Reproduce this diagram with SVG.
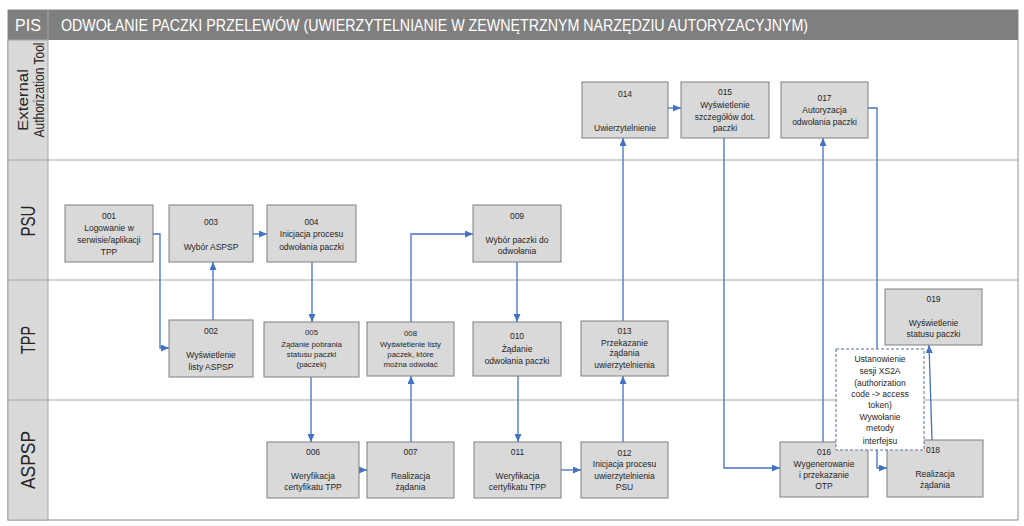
<svg xmlns="http://www.w3.org/2000/svg" width="1024" height="526" viewBox="0 0 1024 526">
<style>
.bg{fill:#ffffff}
.hdr{fill:#7f7f7f}
.ht{font-family:"Liberation Sans",Arial,sans-serif;font-size:16px;fill:#ffffff}
.lane{fill:#d9d9d9;stroke:#a6a6a6;stroke-width:1}
.sep{stroke:#a6a6a6;stroke-width:1;fill:none}
.lt{font-family:"Liberation Sans",Arial,sans-serif;fill:#262626;text-anchor:middle}
.box{fill:#d9d9d9;stroke:#7f7f7f;stroke-width:1}
.dash{fill:#ffffff;stroke:#5a6fa0;stroke-width:1;stroke-dasharray:3,2}
.t{font-family:"Liberation Sans",Arial,sans-serif;font-size:8.5px;fill:#262626;text-anchor:middle}
.s{font-size:7.8px}
.c{fill:none;stroke:#4472c4;stroke-width:1.3;marker-end:url(#ah)}
</style>
<defs>
<marker id="ah" markerUnits="userSpaceOnUse" markerWidth="8" markerHeight="7" refX="8" refY="3.5" orient="auto">
<path d="M0,0 L8,3.5 L0,7 z" fill="#4472c4"/>
</marker>
</defs>
<rect class="bg" x="0" y="0" width="1024" height="526"/>
<g id="frame">
<rect x="8" y="10" width="1010" height="510" fill="none" stroke="#8c8c8c" stroke-width="1"/>
<rect class="hdr" x="8" y="10" width="1010" height="30"/>
<line x1="48" y1="10" x2="48" y2="40" stroke="#a6a6a6" stroke-width="1"/>
<text class="ht" x="28" y="31" text-anchor="middle">PIS</text>
<text class="ht" x="61" y="31" textLength="747" lengthAdjust="spacingAndGlyphs">ODWOŁANIE PACZKI PRZELEWÓW (UWIERZYTELNIANIE W ZEWNĘTRZNYM NARZĘDZIU AUTORYZACYJNYM)</text>
</g>
<g id="lanes">
<rect class="lane" x="8" y="40" width="40" height="480"/>
<line class="sep" x1="8" y1="160" x2="1018" y2="160"/>
<line class="sep" x1="8" y1="280" x2="1018" y2="280"/>
<line class="sep" x1="8" y1="400" x2="1018" y2="400"/>
<text class="lt" font-size="14" transform="translate(28,100) rotate(-90)" textLength="62" lengthAdjust="spacingAndGlyphs">External</text>
<text class="lt" font-size="14" transform="translate(44,90) rotate(-90)" textLength="95" lengthAdjust="spacingAndGlyphs">Authorization Tool</text>
<text class="lt" font-size="20" transform="translate(35,221) rotate(-90)" textLength="31" lengthAdjust="spacingAndGlyphs">PSU</text>
<text class="lt" font-size="20" transform="translate(35,340) rotate(-90)" textLength="28" lengthAdjust="spacingAndGlyphs">TPP</text>
<text class="lt" font-size="20" transform="translate(35,460) rotate(-90)" textLength="58" lengthAdjust="spacingAndGlyphs">ASPSP</text>
</g>
<g id="connectors">
<path class="c" d="M153,234 H160 V348 H169"/>
<path class="c" d="M213,320 V262"/>
<path class="c" d="M253,234 H267"/>
<path class="c" d="M312,262 V322"/>
<path class="c" d="M311,377 V442"/>
<path class="c" d="M359,470 H367"/>
<path class="c" d="M411,442 V376"/>
<path class="c" d="M411,322 V234 H473"/>
<path class="c" d="M517,262 V322"/>
<path class="c" d="M518,376 V442"/>
<path class="c" d="M561,470 H581"/>
<path class="c" d="M623,442 V376"/>
<path class="c" d="M623,321 V138"/>
<path class="c" d="M668,108 H681"/>
<path class="c" d="M724,138 V468 H780"/>
<path class="c" d="M823,442 V138"/>
<path class="c" d="M868,108 H877 V468 H887"/>
<path class="c" d="M932,440 L929,345"/>
</g>
<g id="n001"><rect class="box" x="65" y="205" width="88" height="57"/>
<text class="t" x="109" y="219">001</text><text class="t" x="109" y="231">Logowanie w</text><text class="t" x="109" y="243">serwisie/aplikacji</text><text class="t" x="109" y="255">TPP</text></g>
<g id="n003"><rect class="box" x="169" y="205" width="84" height="57"/>
<text class="t" x="211" y="225">003</text><text class="t" x="211" y="250">Wybór ASPSP</text></g>
<g id="n004"><rect class="box" x="267" y="205" width="89" height="57"/>
<text class="t" x="311.5" y="225">004</text><text class="t" x="311.5" y="237">Inicjacja procesu</text><text class="t" x="311.5" y="250">odwołania paczki</text></g>
<g id="n009"><rect class="box" x="473" y="205" width="88" height="57"/>
<text class="t" x="517" y="219">009</text><text class="t" x="517" y="243">Wybór paczki do</text><text class="t" x="517" y="254">odwołania</text></g>
<g id="n002"><rect class="box" x="169" y="320" width="84" height="57"/>
<text class="t" x="211" y="334">002</text><text class="t" x="211" y="358">Wyświetlenie</text><text class="t" x="211" y="370">listy ASPSP</text></g>
<g id="n005"><rect class="box" x="264" y="322" width="95" height="55"/>
<text class="t s" x="311.5" y="335">005</text><text class="t s" x="311.5" y="347">Żądanie pobrania</text><text class="t s" x="311.5" y="357">statusu paczki</text><text class="t s" x="311.5" y="367">(paczek)</text></g>
<g id="n008"><rect class="box" x="367" y="322" width="87" height="54"/>
<text class="t s" x="410.5" y="336">008</text><text class="t s" x="410.5" y="347">Wyświetlenie listy</text><text class="t s" x="410.5" y="357">paczek, które</text><text class="t s" x="410.5" y="367">można odwołać</text></g>
<g id="n010"><rect class="box" x="473" y="322" width="88" height="54"/>
<text class="t" x="517" y="339">010</text><text class="t" x="517" y="352">Żądanie</text><text class="t" x="517" y="364">odwołania paczki</text></g>
<g id="n013"><rect class="box" x="581" y="321" width="87" height="55"/>
<text class="t" x="624.5" y="334">013</text><text class="t" x="624.5" y="346">Przekazanie</text><text class="t" x="624.5" y="356">żądania</text><text class="t" x="624.5" y="368">uwierzytelnienia</text></g>
<g id="n019"><rect class="box" x="885" y="289" width="97" height="56"/>
<text class="t" x="933.5" y="302">019</text><text class="t" x="933.5" y="326">Wyświetlenie</text><text class="t" x="933.5" y="337">statusu paczki</text></g>
<g id="n006"><rect class="box" x="267" y="442" width="92" height="56"/>
<text class="t" x="313" y="455">006</text><text class="t" x="313" y="479">Weryfikacja</text><text class="t" x="313" y="490">certyfikatu TPP</text></g>
<g id="n007"><rect class="box" x="367" y="442" width="87" height="56"/>
<text class="t" x="410.5" y="455">007</text><text class="t" x="410.5" y="479">Realizacja</text><text class="t" x="410.5" y="490">żądania</text></g>
<g id="n011"><rect class="box" x="474" y="442" width="87" height="56"/>
<text class="t" x="517.5" y="455">011</text><text class="t" x="517.5" y="479">Weryfikacja</text><text class="t" x="517.5" y="490">certyfikatu TPP</text></g>
<g id="n012"><rect class="box" x="581" y="442" width="87" height="56"/>
<text class="t" x="624.5" y="456">012</text><text class="t" x="624.5" y="467">Inicjacja procesu</text><text class="t" x="624.5" y="479">uwierzytelnienia</text><text class="t" x="624.5" y="490">PSU</text></g>
<g id="n016"><rect class="box" x="780" y="442" width="88" height="55"/>
<text class="t" x="824" y="455">016</text><text class="t" x="824" y="467">Wygenerowanie</text><text class="t" x="824" y="478">i przekazanie</text><text class="t" x="824" y="489">OTP</text></g>
<g id="n018"><rect class="box" x="887" y="440" width="96" height="57"/>
<text class="t" x="933" y="453">018</text><text class="t" x="935" y="477">Realizacja</text><text class="t" x="935" y="488">żądania</text></g>
<g id="n014"><rect class="box" x="582" y="82" width="86" height="56"/>
<text class="t" x="625" y="97">014</text><text class="t" x="625" y="131">Uwierzytelnienie</text></g>
<g id="n015"><rect class="box" x="681" y="82" width="88" height="56"/>
<text class="t" x="725" y="95">015</text><text class="t" x="725" y="108">Wyświetlenie</text><text class="t" x="725" y="120">szczegółów dot.</text><text class="t" x="725" y="131">paczki</text></g>
<g id="n017"><rect class="box" x="781" y="82" width="87" height="56"/>
<text class="t" x="824.5" y="101">017</text><text class="t" x="824.5" y="113">Autoryzacja</text><text class="t" x="824.5" y="125">odwołania paczki</text></g>
<g id="note"><rect class="dash" x="836" y="349" width="88" height="101"/>
<text class="t" x="880" y="362">Ustanowienie</text><text class="t" x="880" y="374">sesji XS2A</text><text class="t" x="880" y="386">(authorization</text><text class="t" x="880" y="397">code -&gt; access</text><text class="t" x="880" y="408">token)</text><text class="t" x="880" y="420">Wywołanie</text><text class="t" x="880" y="431">metody</text><text class="t" x="880" y="444">interfejsu</text></g>
</svg>
